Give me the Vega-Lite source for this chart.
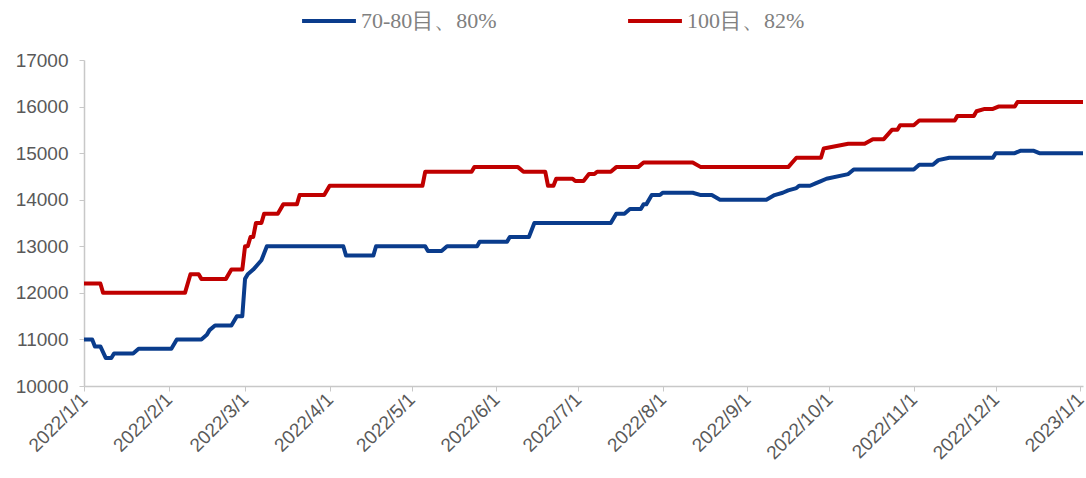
{
  "$schema": "https://vega.github.io/schema/vega-lite/v6.json",
  "width": 999,
  "height": 326,
  "autosize": {"type": "none"},
  "padding": {"left": 84, "top": 60, "right": 3, "bottom": 92},
  "background": "white",
  "config": {"view": {"stroke": null}},
  "datasets": {
    "red": [
      {"date": "2022/01/01", "v": 12200}, {"date": "2022/01/07", "v": 12200}, {"date": "2022/01/08", "v": 12000},
      {"date": "2022/02/07", "v": 12000}, {"date": "2022/02/09", "v": 12400}, {"date": "2022/02/12", "v": 12400},
      {"date": "2022/02/13", "v": 12300}, {"date": "2022/02/22", "v": 12300}, {"date": "2022/02/24", "v": 12500},
      {"date": "2022/02/28", "v": 12500}, {"date": "2022/03/01", "v": 13000}, {"date": "2022/03/02", "v": 13000},
      {"date": "2022/03/03", "v": 13200}, {"date": "2022/03/04", "v": 13200}, {"date": "2022/03/05", "v": 13500},
      {"date": "2022/03/07", "v": 13500}, {"date": "2022/03/08", "v": 13700}, {"date": "2022/03/13", "v": 13700},
      {"date": "2022/03/15", "v": 13900}, {"date": "2022/03/20", "v": 13900}, {"date": "2022/03/21", "v": 14100},
      {"date": "2022/03/30", "v": 14100}, {"date": "2022/04/01", "v": 14300}, {"date": "2022/05/05", "v": 14300},
      {"date": "2022/05/06", "v": 14600}, {"date": "2022/05/23", "v": 14600}, {"date": "2022/05/24", "v": 14700},
      {"date": "2022/06/09", "v": 14700}, {"date": "2022/06/11", "v": 14600}, {"date": "2022/06/19", "v": 14600},
      {"date": "2022/06/20", "v": 14300}, {"date": "2022/06/22", "v": 14300}, {"date": "2022/06/23", "v": 14450},
      {"date": "2022/06/29", "v": 14450}, {"date": "2022/06/30", "v": 14400}, {"date": "2022/07/03", "v": 14400},
      {"date": "2022/07/05", "v": 14550}, {"date": "2022/07/07", "v": 14550}, {"date": "2022/07/08", "v": 14600},
      {"date": "2022/07/13", "v": 14600}, {"date": "2022/07/15", "v": 14700}, {"date": "2022/07/23", "v": 14700},
      {"date": "2022/07/25", "v": 14800}, {"date": "2022/08/12", "v": 14800}, {"date": "2022/08/15", "v": 14700},
      {"date": "2022/09/16", "v": 14700}, {"date": "2022/09/19", "v": 14900}, {"date": "2022/09/28", "v": 14900},
      {"date": "2022/09/29", "v": 15100}, {"date": "2022/10/08", "v": 15200}, {"date": "2022/10/14", "v": 15200},
      {"date": "2022/10/17", "v": 15300}, {"date": "2022/10/21", "v": 15300}, {"date": "2022/10/24", "v": 15500},
      {"date": "2022/10/26", "v": 15500}, {"date": "2022/10/27", "v": 15600}, {"date": "2022/11/01", "v": 15600},
      {"date": "2022/11/03", "v": 15700}, {"date": "2022/11/16", "v": 15700}, {"date": "2022/11/17", "v": 15800},
      {"date": "2022/11/23", "v": 15800}, {"date": "2022/11/24", "v": 15900}, {"date": "2022/11/27", "v": 15950},
      {"date": "2022/11/30", "v": 15950}, {"date": "2022/12/02", "v": 16000}, {"date": "2022/12/08", "v": 16000},
      {"date": "2022/12/09", "v": 16100}, {"date": "2023/01/02", "v": 16100}
    ],
    "blue": [
      {"date": "2022/01/01", "v": 11000}, {"date": "2022/01/04", "v": 11000}, {"date": "2022/01/05", "v": 10850},
      {"date": "2022/01/07", "v": 10850}, {"date": "2022/01/09", "v": 10600}, {"date": "2022/01/11", "v": 10600},
      {"date": "2022/01/12", "v": 10700}, {"date": "2022/01/19", "v": 10700}, {"date": "2022/01/21", "v": 10800},
      {"date": "2022/02/02", "v": 10800}, {"date": "2022/02/04", "v": 11000}, {"date": "2022/02/13", "v": 11000},
      {"date": "2022/02/15", "v": 11100}, {"date": "2022/02/16", "v": 11200}, {"date": "2022/02/18", "v": 11300},
      {"date": "2022/02/24", "v": 11300}, {"date": "2022/02/26", "v": 11500}, {"date": "2022/02/28", "v": 11500},
      {"date": "2022/03/01", "v": 12300}, {"date": "2022/03/02", "v": 12400}, {"date": "2022/03/04", "v": 12500},
      {"date": "2022/03/07", "v": 12700}, {"date": "2022/03/09", "v": 13000}, {"date": "2022/04/06", "v": 13000},
      {"date": "2022/04/07", "v": 12800}, {"date": "2022/04/17", "v": 12800}, {"date": "2022/04/18", "v": 13000},
      {"date": "2022/05/06", "v": 13000}, {"date": "2022/05/07", "v": 12900}, {"date": "2022/05/12", "v": 12900},
      {"date": "2022/05/14", "v": 13000}, {"date": "2022/05/25", "v": 13000}, {"date": "2022/05/26", "v": 13100},
      {"date": "2022/06/05", "v": 13100}, {"date": "2022/06/06", "v": 13200}, {"date": "2022/06/13", "v": 13200},
      {"date": "2022/06/15", "v": 13500}, {"date": "2022/07/13", "v": 13500}, {"date": "2022/07/15", "v": 13700},
      {"date": "2022/07/18", "v": 13700}, {"date": "2022/07/20", "v": 13800}, {"date": "2022/07/24", "v": 13800},
      {"date": "2022/07/25", "v": 13900}, {"date": "2022/07/26", "v": 13900}, {"date": "2022/07/28", "v": 14100},
      {"date": "2022/07/31", "v": 14100}, {"date": "2022/08/01", "v": 14150}, {"date": "2022/08/12", "v": 14150},
      {"date": "2022/08/15", "v": 14100}, {"date": "2022/08/19", "v": 14100}, {"date": "2022/08/22", "v": 14000},
      {"date": "2022/09/08", "v": 14000}, {"date": "2022/09/11", "v": 14100}, {"date": "2022/09/14", "v": 14150},
      {"date": "2022/09/16", "v": 14200}, {"date": "2022/09/19", "v": 14250}, {"date": "2022/09/20", "v": 14300},
      {"date": "2022/09/24", "v": 14300}, {"date": "2022/09/26", "v": 14350}, {"date": "2022/09/28", "v": 14400},
      {"date": "2022/09/30", "v": 14450}, {"date": "2022/10/08", "v": 14550}, {"date": "2022/10/10", "v": 14650},
      {"date": "2022/11/01", "v": 14650}, {"date": "2022/11/03", "v": 14750}, {"date": "2022/11/08", "v": 14750},
      {"date": "2022/11/10", "v": 14850}, {"date": "2022/11/14", "v": 14900}, {"date": "2022/11/30", "v": 14900},
      {"date": "2022/12/01", "v": 15000}, {"date": "2022/12/08", "v": 15000}, {"date": "2022/12/10", "v": 15050},
      {"date": "2022/12/15", "v": 15050}, {"date": "2022/12/17", "v": 15000}, {"date": "2023/01/02", "v": 15000}
    ]
  },
  "layer": [
    {
      "data": {"name": "blue"},
      "transform": [{"calculate": "'70-80目、80%'", "as": "series"}],
      "mark": {"type": "line", "strokeWidth": 4, "strokeJoin": "round"},
      "encoding": {
        "x": {"field": "date", "type": "temporal"},
        "y": {"field": "v", "type": "quantitative"},
        "color": {"field": "series", "type": "nominal"}
      }
    },
    {
      "data": {"name": "red"},
      "transform": [{"calculate": "'100目、82%'", "as": "series"}],
      "mark": {"type": "line", "strokeWidth": 4, "strokeJoin": "round"},
      "encoding": {
        "x": {"field": "date", "type": "temporal"},
        "y": {"field": "v", "type": "quantitative"},
        "color": {"field": "series", "type": "nominal"}
      }
    }
  ],
  "encoding": {
    "x": {
      "field": "date", "type": "temporal",
      "scale": {"domain": ["2022/01/01", "2023/01/02"]},
      "axis": {
        "title": null, "grid": false,
        "values": [
          {"year": 2022, "month": 1, "date": 1}, {"year": 2022, "month": 2, "date": 1}, {"year": 2022, "month": 3, "date": 1},
          {"year": 2022, "month": 4, "date": 1}, {"year": 2022, "month": 5, "date": 1}, {"year": 2022, "month": 6, "date": 1},
          {"year": 2022, "month": 7, "date": 1}, {"year": 2022, "month": 8, "date": 1}, {"year": 2022, "month": 9, "date": 1},
          {"year": 2022, "month": 10, "date": 1}, {"year": 2022, "month": 11, "date": 1}, {"year": 2022, "month": 12, "date": 1},
          {"year": 2023, "month": 1, "date": 1}
        ],
        "format": "%Y/%-m/%-d",
        "labelAngle": -45, "labelAlign": "right", "labelBaseline": "middle",
        "labelFont": "Liberation Sans", "labelFontSize": 19, "labelColor": "#595959",
        "labelPadding": 5, "labelOverlap": false, "labelFlush": false,
        "domainColor": "#c8c8c8", "domainWidth": 1.5, "tickColor": "#c8c8c8", "tickSize": 5
      }
    },
    "y": {
      "field": "v", "type": "quantitative",
      "scale": {"domain": [10000, 17000], "nice": false, "zero": false},
      "axis": {
        "title": null, "grid": false, "values": [10000, 11000, 12000, 13000, 14000, 15000, 16000, 17000],
        "format": "d",
        "labelFont": "Liberation Sans", "labelFontSize": 19, "labelColor": "#595959", "labelPadding": 11,
        "domainColor": "#c8c8c8", "domainWidth": 1.5, "tickColor": "#c8c8c8", "tickSize": 5
      }
    },
    "color": {
      "field": "series", "type": "nominal",
      "scale": {"domain": ["70-80目、80%", "100目、82%"], "range": ["#0a3c8c", "#c00000"]},
      "legend": {
        "title": null, "orient": "none", "legendX": 216, "legendY": -68,
        "direction": "horizontal", "symbolType": "stroke", "symbolSize": 2900,
        "symbolStrokeWidth": 4, "columnPadding": 123, "labelOffset": 3,
        "labelFont": "Liberation Serif", "labelFontSize": 22, "labelColor": "#808080", "labelLimit": 300
      }
    }
  }
}
